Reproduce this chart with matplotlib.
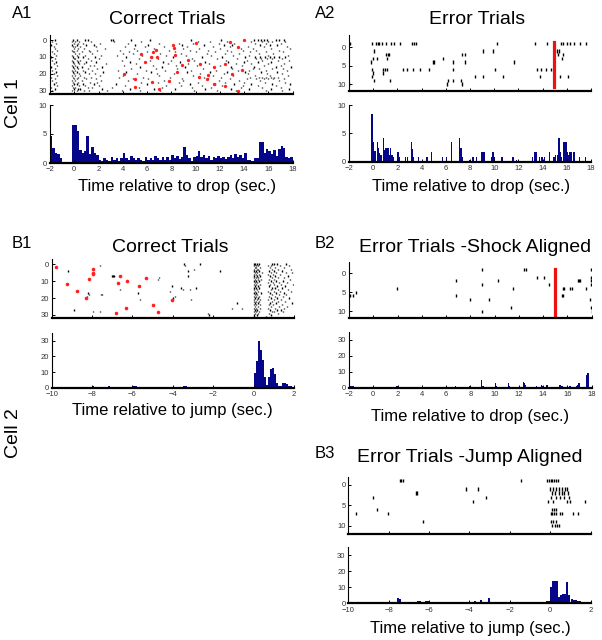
import numpy as np
import matplotlib.pyplot as plt

plt.rcParams['font.family'] = ['Liberation Sans', 'DejaVu Sans']

# ---- A1 : cell 1, correct trials (aligned to drop) ----
a1_spikes = [
    [-1.6, -0.1, 0.2, 0.9, 1.1, 3.0, 3.2, 4.7, 6.2, 9.6, 12.1, 14.8, 15.1, 15.4, 15.6, 15.9, 16.6, 16.9, 17.3],
    [-1.8, -0.2, 0.1, 0.4, 1.4, 3.3, 5.5, 10.2, 11.2, 12.6, 14.6, 15.5, 16.0, 16.3, 17.4],
    [-1.5, 0.0, 0.3, 0.7, 2.1, 4.4, 7.0, 8.6, 9.8, 11.9, 13.2, 14.9, 15.8, 17.0],
    [-1.9, -0.2, 0.2, 1.0, 1.6, 5.0, 6.1, 8.9, 10.7, 12.3, 13.0, 15.3, 16.1, 16.7],
    [-1.7, -0.1, 0.1, 0.5, 1.8, 4.2, 5.8, 7.4, 9.3, 11.4, 12.8, 14.3, 15.6, 17.5],
    [-1.6, 0.0, 0.3, 0.8, 2.5, 4.9, 6.6, 9.0, 10.3, 12.0, 13.7, 14.7, 16.2, 17.8],
    [-1.4, -0.2, 0.2, 1.2, 1.9, 3.8, 5.2, 7.8, 9.5, 11.0, 12.6, 13.9, 15.0, 16.9],
    [-1.8, -0.1, 0.0, 0.6, 1.3, 4.5, 6.0, 8.3, 10.0, 11.6, 12.9, 14.5, 15.8, 17.2],
    [-1.7, 0.1, 0.4, 1.5, 4.0, 4.8, 7.1, 8.8, 10.9, 12.4, 13.6, 15.2, 16.4],
    [-1.5, -0.2, 0.2, 0.9, 2.2, 3.5, 5.6, 7.6, 9.2, 11.3, 13.1, 14.4, 16.0, 17.6],
    [-1.9, -0.1, 0.3, 0.7, 1.7, 4.3, 6.4, 8.1, 10.5, 12.2, 14.1, 14.9, 15.3, 15.7, 16.1, 16.5, 16.9, 17.4],
    [-1.6, 0.0, 0.1, 1.1, 2.0, 5.3, 6.9, 9.7, 11.8, 13.4, 15.0, 15.4, 15.9, 16.3, 17.1],
    [-1.8, -0.2, 0.2, 0.5, 1.4, 3.9, 6.2, 8.0, 9.9, 12.5, 14.2, 15.5, 16.8, 17.7],
    [-1.5, -0.1, 0.3, 1.0, 1.8, 4.6, 7.3, 8.7, 10.8, 12.7, 14.0, 15.1, 16.2],
    [-1.7, 0.0, 0.4, 0.8, 2.6, 5.1, 7.7, 9.4, 11.1, 13.3, 14.6, 16.0, 17.3],
    [-1.4, -0.2, 0.1, 1.3, 1.6, 4.1, 6.5, 8.4, 10.1, 12.0, 13.8, 15.6, 17.0],
    [-1.9, -0.1, 0.2, 0.6, 2.3, 5.4, 7.2, 9.1, 11.5, 12.9, 14.8, 16.6, 17.9],
    [-1.6, 0.0, 0.3, 1.1, 1.9, 4.7, 6.7, 8.5, 10.6, 13.0, 14.7, 15.2, 16.3, 17.2],
    [-1.8, -0.2, 0.1, 0.7, 1.5, 3.6, 5.9, 7.5, 9.6, 11.7, 13.5, 14.4, 15.8, 17.5],
    [-1.5, -0.1, 0.2, 0.9, 2.4, 4.3, 6.3, 9.3, 11.2, 12.6, 14.1, 15.4, 16.7],
    [-1.7, 0.0, 0.4, 1.2, 1.7, 5.2, 6.8, 8.2, 10.4, 12.3, 14.3, 15.9, 17.1],
    [-1.4, -0.2, 0.1, 0.5, 2.1, 4.0, 7.0, 9.8, 11.4, 13.1, 14.9, 16.1, 17.6],
    [-1.9, -0.1, 0.3, 0.8, 1.4, 3.7, 5.7, 7.9, 10.7, 12.1, 14.5, 15.2, 15.5, 15.8, 16.2, 16.5, 16.8],
    [-1.6, 0.0, 0.2, 1.0, 1.8, 4.8, 6.1, 8.9, 11.0, 12.8, 14.2, 15.0, 15.6, 16.0, 16.4, 17.3],
    [-1.8, -0.2, 0.1, 0.6, 2.2, 4.4, 7.4, 9.0, 11.9, 13.6, 15.3, 16.9],
    [-1.5, -0.1, 0.3, 1.3, 1.9, 5.5, 6.9, 8.6, 10.2, 12.4, 14.0, 15.7, 17.4],
    [-1.7, 0.0, 0.2, 0.7, 1.6, 3.4, 6.0, 9.5, 11.6, 13.2, 14.6, 16.3, 17.8],
    [-1.4, -0.2, 0.4, 0.9, 2.0, 4.2, 7.6, 8.8, 10.5, 12.2, 13.9, 15.1, 16.6],
    [-1.9, -0.1, 0.1, 1.1, 1.5, 3.1, 5.3, 7.2, 9.7, 11.3, 13.7, 15.5, 17.0],
    [-1.6, 0.0, 0.3, 0.5, 2.3, 4.6, 6.6, 8.3, 10.8, 12.9, 14.4, 16.2, 17.7],
    [-1.8, -0.2, 0.2, 0.8, 1.2, 2.7, 3.9, 5.4, 7.1, 9.9, 11.8, 13.3, 15.8, 17.1],
]
a1_red_t = [5.5, 6.3, 6.8, 5.8, 6.5, 4.1, 5.0, 5.0, 6.4, 7.0, 8.1, 8.2, 8.3, 10.0, 8.9, 9.4, 10.4,
            8.5, 11.5, 12.4, 12.8, 14.0, 13.5, 13.0, 13.8, 11.5, 12.4, 13.5, 10.9, 10.3, 11.0, 7.8, 6.7]
a1_red_tr = [8, 10, 10, 13, 7, 20, 23, 28, 25, 29, 3, 5, 9, 2, 15, 12, 14,
             19, 16, 14, 1, 0, 4, 20, 18, 26, 27, 30, 23, 22, 21, 24, 6]
a1_hist = [4.6, 2.6, 1.8, 1.6, 0.8, 0.1, 0.1, 0.1, 0.1, 6.6,
           6.5, 5.6, 2.3, 1.7, 2.1, 4.6, 1.5, 2.7, 1.8, 1.4,
           0.6, 0.4, 0.9, 0.5, 0.4, 1.1, 0.5, 0.8, 0.4, 0.9,
           1.8, 0.8, 0.6, 1.2, 0.9, 0.5, 0.9, 0.6, 0.4, 1.1,
           0.6, 0.9, 0.5, 1.2, 0.8, 0.6, 1.0, 0.5, 1.0, 0.6,
           1.3, 0.8, 1.2, 0.7, 1.0, 2.8, 1.4, 0.9, 0.3, 1.0,
           1.2, 2.1, 1.0, 1.3, 0.8, 1.2, 0.6, 1.1, 0.8, 1.2,
           0.9, 1.1, 0.7, 1.0, 1.3, 0.8, 1.6, 1.0, 1.3, 0.9,
           1.8, 0.5, 0.6, 0.4, 0.9, 0.8, 3.7, 3.7, 1.8, 2.5,
           2.0, 1.6, 2.3, 1.2, 2.4, 3.0, 2.6, 1.0, 0.9, 1.0]
a1_bins = np.arange(-2.0, 18.0, 0.2)

# ---- A2 : cell 1, error trials ----
a2_rows = [-1, 1, 2, 3, 4, 6, 7, 8, 9, 10]
a2_spikes = [
    [-1.92, -0.13, 0.23, 0.37, 0.5, 0.7, 1.06, 1.44, 1.72, 2.21, 3.18, 3.37, 3.51, 10.2,
     13.37, 14.34, 15.52, 15.71, 15.99, 16.26, 16.6, 17.09, 17.59],
    [0.07, 9.05, 9.87, 15.16, 15.38],
    [1.06, 1.25, 1.33, 7.31, 7.59, 15.3, 15.71],
    [0.01, 0.34, 1.17, 5.74, 15.58],
    [-0.21, 4.91, 5.02, 6.57, 7.59, 11.64],
    [-0.13, 0.84, 1.0, 1.17, 2.44, 2.82, 3.32, 3.87, 4.64, 6.57, 10.07, 13.56, 13.84, 14.28, 14.66],
    [-0.04, 0.84],
    [-0.13, 8.41, 9.05, 10.76, 13.79, 15.44, 16.13],
    [0.07, 1.39, 6.21, 6.57, 7.23],
    [-1.97, 6.07, 7.31],
]
a2_hist_t = [-2.0, -0.2, -0.1, 0.0, 0.1, 0.3, 0.4, 0.5, 0.6, 0.8, 0.9, 1.0, 1.1, 1.2, 1.3, 1.4, 1.5, 1.6,
             2.0, 2.1, 2.6, 2.8, 3.1, 3.2, 3.3, 3.7, 4.4, 4.8, 5.7, 6.0, 6.4, 7.1, 7.2, 7.3, 7.9, 8.2,
             8.5, 8.9, 9.0, 9.1, 9.7, 9.8, 9.9, 10.0, 10.6, 11.5, 11.8, 13.1, 13.3, 13.4, 13.7, 13.9,
             14.1, 14.5, 14.9, 15.0, 15.2, 15.3, 15.4, 15.5, 15.7, 15.8, 15.9, 16.0, 16.1, 16.2, 16.3,
             16.5, 16.6, 17.0, 17.5]
a2_hist_h = [0.8, 8.5, 8.5, 3.4, 1.8, 3.4, 2.5, 1.6, 1.2, 4.2, 2.0, 2.5, 2.5, 2.5, 1.2, 2.5, 1.2, 0.8,
             1.7, 0.8, 0.8, 0.8, 3.4, 2.3, 0.8, 0.8, 0.8, 1.7, 0.8, 0.8, 3.4, 4.2, 2.5, 0.8, 0.3, 0.8,
             0.8, 1.7, 1.7, 1.7, 0.8, 1.7, 1.7, 0.8, 0.8, 0.8, 0.3, 0.8, 1.7, 1.7, 0.8, 0.8,
             0.8, 1.7, 0.8, 1.2, 1.2, 4.2, 1.7, 0.8, 3.4, 3.4, 3.4, 1.7, 1.2, 1.7, 1.7,
             1.7, 1.7, 0.8, 0.8]
shock_time = 14.95

# ---- B1 : cell 2, correct trials (aligned to jump) ----
b1_spikes = [
    [-3.45, -2.65, 0.02, 0.08, 0.15, 0.25, 0.9, 1.0, 1.15, 1.6],
    [-7.6, -3.4, 0.0, 0.1, 0.2, 0.7, 0.85, 1.3, 1.75],
    [0.05, 0.12, 0.3, 0.8, 1.05, 1.5],
    [-2.95, 0.0, 0.15, 0.22, 0.9, 1.2, 1.85],
    [-9.2, -3.25, -1.65, 0.03, 0.1, 0.28, 0.75, 1.0, 1.4],
    [0.06, 0.18, 0.4, 0.85, 1.1, 1.6, 1.9],
    [0.0, 0.12, 0.25, 0.7, 0.95, 1.3],
    [-7.0, -6.95, -6.9, -3.25, 0.04, 0.16, 0.3, 0.8, 1.05, 1.7],
    [-4.7, 0.02, 0.1, 0.2, 0.9, 1.2, 1.5],
    [-4.75, 0.08, 0.22, 0.35, 0.75, 1.0, 1.8],
    [0.0, 0.14, 0.27, 0.85, 1.1, 1.45],
    [0.05, 0.18, 0.7, 0.95, 1.25, 1.65],
    [0.02, 0.12, 0.3, 0.8, 1.0, 1.35, 1.95],
    [-4.05, 0.07, 0.2, 0.75, 1.15, 1.55],
    [-3.6, -2.85, 0.0, 0.1, 0.25, 0.9, 1.05, 1.4],
    [-6.6, -3.5, -3.15, 0.04, 0.16, 0.85, 1.2, 1.7],
    [-4.15, 0.08, 0.22, 0.7, 1.0, 1.3, 1.85],
    [-8.2, -5.75, 0.0, 0.13, 0.35, 0.8, 1.1, 1.5],
    [-8.15, -7.55, -7.5, 0.05, 0.18, 0.9, 1.25, 1.6],
    [-8.25, -3.9, 0.02, 0.12, 0.28, 0.75, 1.05, 1.45],
    [-4.0, 0.07, 0.2, 0.85, 1.15, 1.75],
    [-5.65, -3.1, 0.0, 0.15, 0.3, 0.7, 1.0, 1.35],
    [0.04, 0.1, 0.25, 0.9, 1.2, 1.55],
    [-0.84, 0.08, 0.2, 0.8, 1.1, 1.9],
    [0.0, 0.14, 0.32, 0.75, 0.95, 1.4],
    [0.06, 0.2, 0.85, 1.25, 1.65],
    [-1.06, -0.57, 0.02, 0.12, 0.3, 0.7, 1.05, 1.5],
    [-8.9, 0.05, 0.18, 0.8, 1.15, 1.35],
    [-7.95, -7.6, 0.0, 0.1, 0.25, 0.9, 1.0, 1.45],
    [-2.27, 0.07, 0.22, 0.75, 1.2],
    [-2.2, 0.04, 0.15, 0.85],
    [0.02, 0.6],
]
b1_red_t = [-9.8, -9.26, -8.73, -8.32, -8.15, -7.97, -7.97, -7.94, -6.83, -6.62, -6.7, -6.29,
            -6.33, -5.66, -5.33, -4.97, -4.72, -4.03]
b1_red_tr = [2, 12, 16, 20, 9, 3, 5, 6, 29, 7, 11, 10, 26, 13, 8, 24, 28, 21]
b1_hist = [0.3, 0.3, 0.2, 0.3, 0.3, 0.2, 0.3, 0.3, 0.2, 0.3,
           0.3, 0.2, 0.3, 0.3, 0.2, 0.3, 0.3, 0.2, 0.3, 0.3,
           0.8, 0.3, 0.2, 0.3, 0.3, 0.2, 0.3, 0.3, 0.8, 0.3,
           0.3, 0.2, 0.3, 0.3, 0.2, 0.3, 0.3, 0.2, 0.3, 0.3,
           1.0, 0.8, 0.3, 0.2, 0.3, 0.3, 0.2, 0.3, 0.3, 0.2,
           0.3, 0.3, 0.2, 0.3, 0.3, 0.2, 0.3, 0.3, 0.2, 0.3,
           0.3, 0.2, 0.3, 0.3, 0.2, 1.3, 0.8, 0.3, 0.2, 0.3,
           0.3, 0.2, 0.3, 0.3, 0.6, 0.3, 0.2, 0.3, 0.3, 0.2,
           0.3, 0.3, 0.2, 0.3, 0.3, 0.2, 0.3, 0.3, 0.2, 0.3,
           0.3, 0.2, 0.3, 0.3, 0.2, 0.3, 0.3, 0.2, 0.3, 0.3,
           9.6, 17.0, 30.0, 24.0, 17.5, 7.0, 1.7, 7.0, 12.0, 12.3,
           9.0, 3.2, 1.3, 1.3, 2.8, 2.8, 2.3, 1.1, 1.0, 0.5]
b1_bins = np.arange(-10.0, 2.0, 0.1)

# ---- B2 : cell 2, error trials, shock aligned ----
b2_rows = [-1, 1, 2, 3, 4, 5, 6, 7, 9, 10]
b2_spikes = [
    [8.99, 12.45, 12.55, 17.95],
    [13.52, 14.08, 17.95],
    [6.82, 10.3, 16.85, 16.95, 17.05, 17.95],
    [8.99, 14.49, 17.95],
    [1.98, 11.55, 15.6, 15.7, 16.2, 16.4, 17.5],
    [-1.42],
    [-1.92, -1.7, 6.82, 15.55, 15.65],
    [7.98, 9.57, 17.9],
    [11.33, 17.95],
    [8.99, 18.0],
]
b2_hist_t = [-2.0, -1.9, -1.8, -1.7, 1.9, 6.7, 7.9, 8.9, 9.0, 10.0, 10.1, 11.1, 11.2, 11.3, 12.3,
             12.4, 12.5, 13.4, 13.8, 13.9, 14.2, 14.3, 15.3, 15.4, 15.5, 16.1, 16.2, 16.7, 16.8,
             16.9, 17.5, 17.6, 17.7]
b2_hist_h = [1.7, 1.2, 0.8, 0.8, 0.8, 0.8, 0.8, 4.8, 1.0, 2.7, 1.2, 2.7, 1.2, 0.6, 3.3,
             2.7, 1.5, 0.8, 1.5, 1.2, 1.8, 1.8, 1.5, 1.5, 1.0, 1.0, 0.8, 1.2, 1.8,
             3.1, 8.0, 9.0, 9.0]

# ---- B3 : cell 2, error trials, jump aligned ----
b3_rows = [-1, 1, 2, 3, 4, 6, 7, 9, 10]
b3_spikes = [
    [-7.45, -7.38, -7.3, -1.47, -0.15, -0.05, 0.05, 0.1, 0.2, 0.28, 0.38],
    [-4.17, -3.56, 0.0, 0.15, 0.3, 0.45, 0.6, 0.75, 0.85],
    [-6.63, -6.58, 0.1, 0.25, 0.45, 0.6, 0.7, 0.9],
    [-8.76, -3.18, 0.05, 0.3, 0.5, 0.7, 0.95],
    [-3.84, -0.12, 0.15, 0.81, 0.97, 1.72],
    [-8.6, 0.1, 0.2, 0.3],
    [-9.62, -8.05, 0.05, 0.1, 0.2, 0.3, 0.5, 0.6, 1.14, 1.39],
    [-6.29, 0.05, 0.15, 0.3],
    [0.1, 0.25, 0.35, 0.45],
]
b3_hist_t = [-9.7, -8.8, -8.6, -8.2, -8.1, -7.6, -7.5, -6.6, -6.5, -6.2, -6.1, -5.8, -4.1, -3.8,
             -3.5, -3.1, -1.4, -0.2, -0.1, 0.0, 0.1, 0.2, 0.3, 0.4, 0.5, 0.6, 0.7, 0.8, 0.9, 1.0,
             1.1, 1.2, 1.3, 1.4, 1.7]
b3_hist_h = [0.6, 0.6, 0.6, 0.6, 0.6, 3.3, 2.5, 1.7, 1.7, 1.7, 1.2, 0.4, 0.6, 1.2,
             2.3, 3.5, 0.6, 1.5, 1.5, 10.0, 13.9, 13.9, 13.6, 4.0, 5.0, 5.5, 6.0, 13.5, 5.0, 2.5,
             2.0, 2.0, 1.2, 1.2, 0.6]

W, H = 602, 640
navy = '#06068a'
fig = plt.figure(figsize=(W / 100, H / 100), dpi=100)


def box(x0, y0, x1, y1):
    return fig.add_axes([x0 / W, 1 - y1 / H, (x1 - x0) / W, (y1 - y0) / H])


def style(ax, xlim, ylim, xt, yt, xlabels=True):
    ax.set_xlim(xlim)
    ax.set_ylim(ylim)
    ax.set_xticks(xt)
    ax.set_yticks(yt)
    for s in ['top', 'right']:
        ax.spines[s].set_visible(False)
    ax.spines['bottom'].set_linewidth(1.6)
    ax.spines['left'].set_linewidth(0.8)
    ax.tick_params(direction='in', length=2.5, width=0.7, labelsize=5.5,
                   labelcolor='#333333')
    ax.tick_params(axis='x', pad=2.5)
    ax.tick_params(axis='y', pad=2)
    if not xlabels:
        ax.set_xticklabels([])
    ax.patch.set_alpha(0)


def ftext(x, y, s, **kw):
    fig.text(x / W, 1 - y / H, s, **kw)


drop_ticks = np.arange(-2, 19, 2)
jump_ticks = np.arange(-10, 3, 2)

# A1
ax = box(50, 35, 292.7, 94)
ax.eventplot(a1_spikes, lineoffsets=np.arange(len(a1_spikes)), linelengths=0.75,
             linewidths=1.0, colors='k')
ax.plot(a1_red_t, a1_red_tr, 'o', color='#ff2020', ms=2.4, mew=0)
style(ax, (-2, 18), (32, -3), drop_ticks, [0, 10, 20, 30], False)

ax = box(50, 105, 292.7, 163)
ax.bar(a1_bins, a1_hist, width=0.2, align='edge', color=navy, linewidth=0)
style(ax, (-2, 18), (0, 10), drop_ticks, [0, 5, 10])

# A2
ax = box(349, 35, 591, 90.7)
ax.eventplot(a2_spikes, lineoffsets=a2_rows, linelengths=0.9, linewidths=1.0, colors='k')
ax.plot([shock_time, shock_time], [-1.6, 10.8], color='#ee1111', lw=2.3)
style(ax, (-2, 18), (11.8, -3.4), drop_ticks, [0, 5, 10], False)

ax = box(349, 105, 591, 161.7)
ax.bar(a2_hist_t, a2_hist_h, width=0.1, align='edge', color=navy, linewidth=0)
style(ax, (-2, 18), (0, 10), drop_ticks, [0, 5, 10])

# B1
ax = box(51.7, 259, 294, 317.7)
ax.eventplot(b1_spikes, lineoffsets=np.arange(len(b1_spikes)), linelengths=0.8,
             linewidths=1.0, colors='k')
ax.plot(b1_red_t, b1_red_tr, 'o', color='#ff2020', ms=2.6, mew=0)
style(ax, (-10, 2), (31.6, -3), jump_ticks, [0, 10, 20, 30], False)

ax = box(51.7, 332.9, 294, 387.7)
ax.bar(b1_bins, b1_hist, width=0.1, align='edge', color=navy, linewidth=0)
style(ax, (-10, 2), (0, 35), jump_ticks, [0, 10, 20, 30])

# B2
ax = box(349, 262.3, 591.7, 318.3)
ax.eventplot(b2_spikes, lineoffsets=b2_rows, linelengths=0.8, linewidths=1.0, colors='k')
ax.plot([shock_time, shock_time], [-1.0, 11.1], color='#ee1111', lw=2.3)
style(ax, (-2, 18), (11.9, -2.9), drop_ticks, [0, 5, 10], False)

ax = box(349, 332, 591.7, 387.7)
ax.bar(b2_hist_t, b2_hist_h, width=0.1, align='edge', color=navy, linewidth=0)
style(ax, (-2, 18), (0, 35), drop_ticks, [0, 10, 20, 30])

# B3
ax = box(348.3, 476.7, 590.7, 534)
ax.eventplot(b3_spikes, lineoffsets=b3_rows, linelengths=0.8, linewidths=1.0, colors='k')
style(ax, (-10, 2), (12, -2), jump_ticks, [0, 5, 10], False)

ax = box(348.3, 547, 590.7, 603.3)
ax.bar(b3_hist_t, b3_hist_h, width=0.1, align='edge', color=navy, linewidth=0)
style(ax, (-10, 2), (0, 35), jump_ticks, [0, 10, 20, 30])

# labels and titles
ftext(12, 14, 'A1', fontsize=12, va='center')
ftext(315, 14, 'A2', fontsize=12, va='center')
ftext(12, 244, 'B1', fontsize=12, va='center')
ftext(315, 244, 'B2', fontsize=12, va='center')
ftext(315, 454, 'B3', fontsize=12, va='center')

ftext(167, 19, 'Correct Trials', fontsize=14, ha='center', va='center')
ftext(477, 19, 'Error Trials', fontsize=14, ha='center', va='center')
ftext(170, 247, 'Correct Trials', fontsize=14, ha='center', va='center')
ftext(475, 247, 'Error Trials -Shock Aligned', fontsize=14, ha='center', va='center')
ftext(470, 457, 'Error Trials -Jump Aligned', fontsize=14, ha='center', va='center')

ftext(177, 186, 'Time relative to drop (sec.)', fontsize=12, ha='center', va='center')
ftext(471, 186, 'Time relative to drop (sec.)', fontsize=12, ha='center', va='center')
ftext(172, 410, 'Time relative to jump (sec.)', fontsize=12, ha='center', va='center')
ftext(470, 416, 'Time relative to drop (sec.)', fontsize=12, ha='center', va='center')
ftext(470, 628, 'Time relative to jump (sec.)', fontsize=12, ha='center', va='center')

ftext(14, 103, 'Cell 1', fontsize=14, rotation=90, ha='center', va='center')
ftext(14, 433, 'Cell 2', fontsize=14, rotation=90, ha='center', va='center')

fig.savefig('out.png', dpi=100)
